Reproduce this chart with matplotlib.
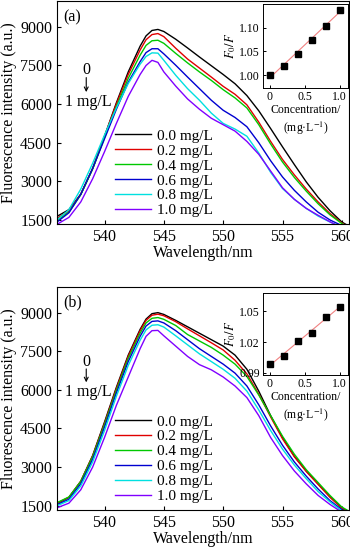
import matplotlib
matplotlib.use("Agg")
import matplotlib.pyplot as plt
import numpy as np

plt.rcParams['font.family'] = ['Liberation Serif', 'DejaVu Serif']
plt.rcParams['mathtext.fontset'] = 'stix'

wl = [536, 537, 538, 539, 540, 541, 542, 543, 543.5, 544, 544.5, 545, 546, 547, 548,
      549, 550, 551, 552, 553, 554, 555, 556, 557, 558, 559, 560, 561]

labels = ['0.0 mg/L', '0.2 mg/L', '0.4 mg/L', '0.6 mg/L', '0.8 mg/L', '1.0 mg/L']
colors = ['black', '#e00000', '#00c800', '#0000d0', '#00e0e0', '#8000ff']

# panel (a)
a_00 = [1640, 1900, 2500, 3500, 4750, 6050, 7250, 8250, 8650, 8860, 8900, 8820, 8520, 8180, 7830,
        7490, 7150, 6790, 6330, 5740, 5050, 4340, 3650, 2980, 2380, 1860, 1420, 1150]
a_02 = [1560, 1850, 2500, 3500, 4750, 6000, 7150, 8100, 8500, 8700, 8740, 8620, 8170, 7750, 7400,
        7050, 6690, 6380, 5970, 5300, 4550, 3850, 3250, 2700, 2200, 1750, 1380, 1120]
a_04 = [1480, 1800, 2480, 3480, 4700, 5900, 7000, 7900, 8280, 8460, 8480, 8360, 7970, 7600, 7250,
        6920, 6560, 6240, 5850, 5200, 4450, 3750, 3150, 2620, 2130, 1700, 1360, 1120]
a_06 = [1420, 1780, 2500, 3500, 4650, 5800, 6850, 7650, 8000, 8150, 8150, 7950, 7510, 7050, 6600,
        6150, 5760, 5480, 5120, 4500, 3800, 3170, 2650, 2200, 1800, 1500, 1280, 1100]
a_08 = [1500, 1900, 2700, 3700, 4800, 5850, 6800, 7550, 7850, 7990, 7980, 7700, 7120, 6600, 6150,
        5650, 5250, 5030, 4750, 4100, 3350, 2720, 2300, 1950, 1650, 1420, 1230, 1080]
a_10 = [1330, 1600, 2200, 3100, 4150, 5250, 6300, 7150, 7500, 7700, 7620, 7250, 6700, 6200, 5800,
        5450, 5200, 4950, 4550, 4050, 3400, 2750, 2300, 1950, 1680, 1430, 1200, 1050]

# panel (b)
b_00 = [1580, 1820, 2450, 3450, 4750, 6100, 7350, 8350, 8750, 8960, 9000, 8930, 8700, 8450, 8200,
        7950, 7700, 7350, 6800, 5950, 5000, 4150, 3420, 2850, 2350, 1850, 1420, 1150]
b_02 = [1600, 1830, 2450, 3430, 4700, 6050, 7300, 8300, 8700, 8900, 8940, 8880, 8650, 8370, 8100,
        7830, 7550, 7150, 6620, 5830, 4950, 4100, 3400, 2830, 2330, 1830, 1400, 1150]
b_04 = [1620, 1840, 2440, 3400, 4650, 5980, 7220, 8200, 8600, 8780, 8810, 8740, 8500, 8150, 7900,
        7650, 7350, 7000, 6520, 5800, 5000, 4200, 3500, 2900, 2400, 1900, 1450, 1180]
b_06 = [1540, 1750, 2350, 3300, 4550, 5880, 7100, 8080, 8480, 8660, 8680, 8600, 8300, 7950, 7600,
        7300, 7000, 6650, 6150, 5420, 4600, 3850, 3200, 2650, 2150, 1700, 1350, 1120]
b_08 = [1500, 1700, 2270, 3200, 4420, 5750, 6950, 7930, 8330, 8510, 8530, 8440, 8100, 7750, 7400,
        7100, 6800, 6450, 5950, 5220, 4420, 3700, 3080, 2550, 2050, 1650, 1300, 1100]
b_10 = [1420, 1600, 2120, 3000, 4150, 5400, 6500, 7600, 8080, 8300, 8310, 8100, 7700, 7300, 6980,
        6780, 6500, 6150, 5700, 5000, 4150, 3450, 2850, 2350, 1900, 1550, 1250, 1050]

conc = [0, 0.2, 0.4, 0.6, 0.8, 1.0]
ratio_a = [1.000, 1.020, 1.045, 1.074, 1.103, 1.138]
ratio_b = [0.999, 1.006, 1.021, 1.029, 1.045, 1.054]

panels = [
    ('(a)', [a_00, a_02, a_04, a_06, a_08, a_10], ratio_a,
     [0.163, 0.597, 0.834, 0.401], [0.751, 0.842, 0.243, 0.151],
     (0.973, 1.150), [1.00, 1.05, 1.10], ['1.00', '1.05', '1.10'], (0.69, 0.657, 0.592, 0.547)),
    ('(b)', [b_00, b_02, b_04, b_06, b_08, b_10], ratio_b,
     [0.163, 0.083, 0.834, 0.401], [0.751, 0.326, 0.243, 0.147],
     (0.988, 1.068), [0.99, 1.02, 1.05], ['0.99', '1.02', '1.05'], (0.665, 0.632, 0.572, 0.53)),
]

fig = plt.figure(figsize=(3.5, 5.56), dpi=100)

for tag, series, ratio, rect, irect, iylim, iyt, iytl, note in panels:
    ax = fig.add_axes(rect)
    for ys, c, lab in zip(series, colors, labels):
        ax.plot(wl, ys, color=c, lw=1.0, label=lab)
    ax.set_xlim(536, 560.6)
    ax.set_ylim(1340, 10000)
    ax.set_xticks([540, 545, 550, 555, 560])
    ax.set_yticks([1500, 3000, 4500, 6000, 7500, 9000])
    ax.tick_params(direction='in', labelsize=11.5, length=3, width=0.8)
    ax.set_xlabel('Wavelength/nm', fontsize=11.5, labelpad=0)
    ax.set_ylabel('Fluorescence intensity (a.u.)', fontsize=11.5, labelpad=2)
    for s in ax.spines.values():
        s.set_linewidth(0.8)
    ax.text(0.022, 0.965, tag, transform=ax.transAxes, fontsize=11.5, va='top', ha='left')
    y0, ya, yb, y1 = note
    ax.text(0.1, y0, '0', transform=ax.transAxes, fontsize=11.5, ha='center', va='center')
    ax.annotate('', xy=(0.1, yb), xytext=(0.1, ya), xycoords='axes fraction',
                arrowprops=dict(arrowstyle='->', lw=0.8, color='black',
                                shrinkA=0, shrinkB=0, mutation_scale=7))
    ax.text(0.108, y1, '1 mg/L', transform=ax.transAxes, fontsize=11.5, ha='center', va='center')
    ax.legend(loc='lower left', bbox_to_anchor=(0.2, 0.03), frameon=False, fontsize=11,
              handlelength=2.3, handletextpad=0.4, labelspacing=0.08, borderpad=0, borderaxespad=0)

    ins = fig.add_axes(irect)
    ins.plot(conc, ratio, 's', color='black', ms=4.5)
    k, b0 = np.polyfit(conc, ratio, 1)
    ins.plot([0, 1], [b0, k + b0], color='#f08080', lw=0.8, zorder=0)
    ins.set_xlim(-0.1, 1.12)
    ins.set_ylim(*iylim)
    ins.set_xticks([0, 0.5, 1.0])
    ins.set_xticklabels(['0', '0.5', '1.0'])
    ins.set_yticks(iyt)
    ins.set_yticklabels(iytl)
    ins.tick_params(direction='in', labelsize=8.5, length=2.5, width=0.7, pad=2)
    for s in ins.spines.values():
        s.set_linewidth(0.7)
    ins.set_ylabel('$F_0/F$', fontsize=9, labelpad=1)
    ins.set_xlabel('Concentration/\n(mg\u00b7L$^{-1}$)', fontsize=8.5, labelpad=1, linespacing=1.3)

fig.savefig('out.png', dpi=100)
